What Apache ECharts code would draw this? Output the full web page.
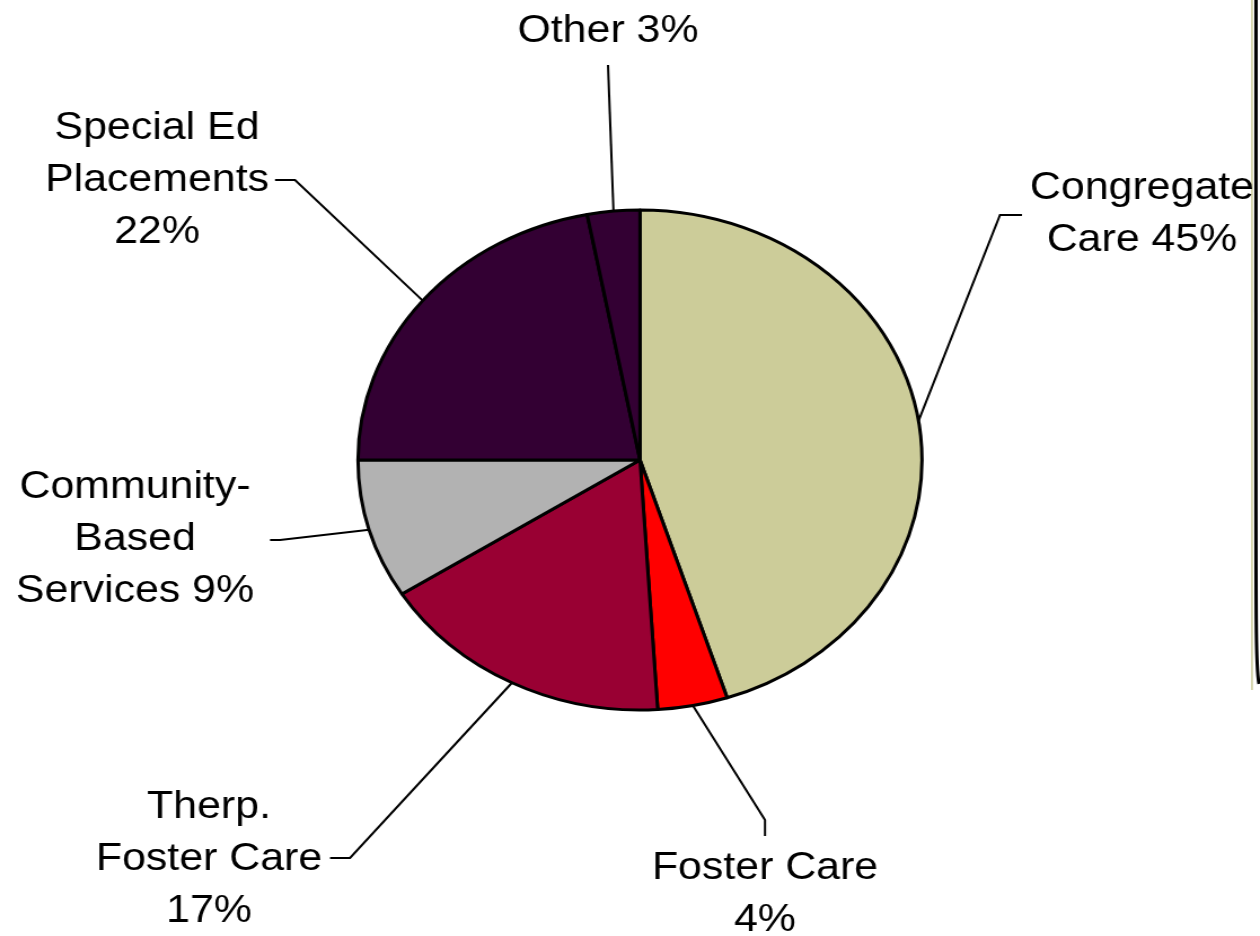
<!DOCTYPE html>
<html>
<head>
<meta charset="utf-8">
<script src="https://cdn.jsdelivr.net/npm/echarts@6/dist/echarts.min.js"></script>
<style>
  html, body { margin: 0; padding: 0; background: #ffffff; overflow: hidden; }
  #wrap { width: 1260px; height: 936px; overflow: hidden; position: relative; }
  /* the chart is laid out narrower and stretched horizontally */
  #chart { width: 1117px; height: 936px; transform: scaleX(1.128); transform-origin: 0 0; }
</style>
</head>
<body>
<div id="wrap"><div id="chart"></div></div>
<script>
// Spending share by placement type (%)
const categories = ['Congregate Care', 'Foster Care', 'Therp. Foster Care', 'Community-Based Services', 'Special Ed Placements', 'Other'];
const shares = [45, 4, 17, 9, 22, 3];
// label wording (line breaks) and what separates the name from the percentage
const labelNames = ['Congregate\nCare', 'Foster Care', 'Therp.\nFoster Care', 'Community-\nBased\nServices', 'Special Ed\nPlacements', 'Other'];
const labelSeps = [' ', '\n', '\n', ' ', '\n', ' '];
const sliceColors = ['#CCCC99', '#FF0000', '#990033', '#B2B2B2', '#330033', '#330033'];

// page-space layout of labels and leader-line bends
const SX = 1.128;
const CX = 640, CY = 460, R = 250;
const labelAnchors = [[1142, 215], [765, 895], [209, 860], [135, 540], [157, 181], [608, 32]];
const leaderBends = [
  [[1000, 215], [1022, 215]],
  [[765, 820], [765, 836]],
  [[350, 858], [330, 858]],
  [[280, 540], [270, 540]],
  [[295, 180], [275, 180]],
  [[608, 65]]
];

const total = shares.reduce((a, b) => a + b, 0);
function edgePoint(i) {
  let before = 0;
  for (let k = 0; k < i; k++) before += shares[k];
  const mid = (before + shares[i] / 2) / total * Math.PI * 2;
  return [CX / SX + R * Math.sin(mid), CY - R * Math.cos(mid)];
}

const chart = echarts.init(document.getElementById('chart'), null, { renderer: 'canvas' });
chart.setOption({
  backgroundColor: '#ffffff',
  animation: false,
  textStyle: { fontFamily: '"Liberation Sans", Arial, sans-serif' },
  graphic: [
    {
      type: 'polyline',
      silent: true,
      shape: { points: [[1252 / SX, 0], [1252 / SX, 690]] },
      style: { stroke: '#CCCC99', lineWidth: 1.5, fill: null }
    },
    {
      type: 'bezierCurve',
      silent: true,
      shape: { x1: 1256 / SX, y1: 0, x2: 1259 / SX, y2: 684, cpx1: 1256 / SX, cpy1: 640, cpx2: 1255 / SX, cpy2: 665 },
      style: { stroke: '#000000', lineWidth: 3, fill: null }
    }
  ],
  series: [{
    type: 'pie',
    center: [CX / SX, CY],
    radius: [0, R],
    startAngle: 90,
    clockwise: true,
    avoidLabelOverlap: false,
    data: categories.map((name, i) => ({
      name: name,
      value: shares[i],
      itemStyle: { color: sliceColors[i] }
    })),
    itemStyle: { borderColor: '#000000', borderWidth: 3 },
    emphasis: { disabled: true },
    label: {
      show: true,
      position: 'outside',
      color: '#000000',
      fontSize: 38,
      lineHeight: 52,
      align: 'center',
      fontFamily: '"Liberation Sans", Arial, sans-serif',
      formatter: p => labelNames[p.dataIndex] + labelSeps[p.dataIndex] + shares[p.dataIndex] + '%'
    },
    labelLine: {
      show: true,
      smooth: false,
      lineStyle: { color: '#000000', width: 2 }
    },
    labelLayout: function (params) {
      const i = params.dataIndex;
      const start = edgePoint(i);
      const pts = [start].concat(leaderBends[i].map(p => [p[0] / SX, p[1]]));
      return {
        x: labelAnchors[i][0] / SX,
        y: labelAnchors[i][1],
        align: 'center',
        verticalAlign: 'middle',
        labelLinePoints: pts
      };
    }
  }]
});
</script>
</body>
</html>
